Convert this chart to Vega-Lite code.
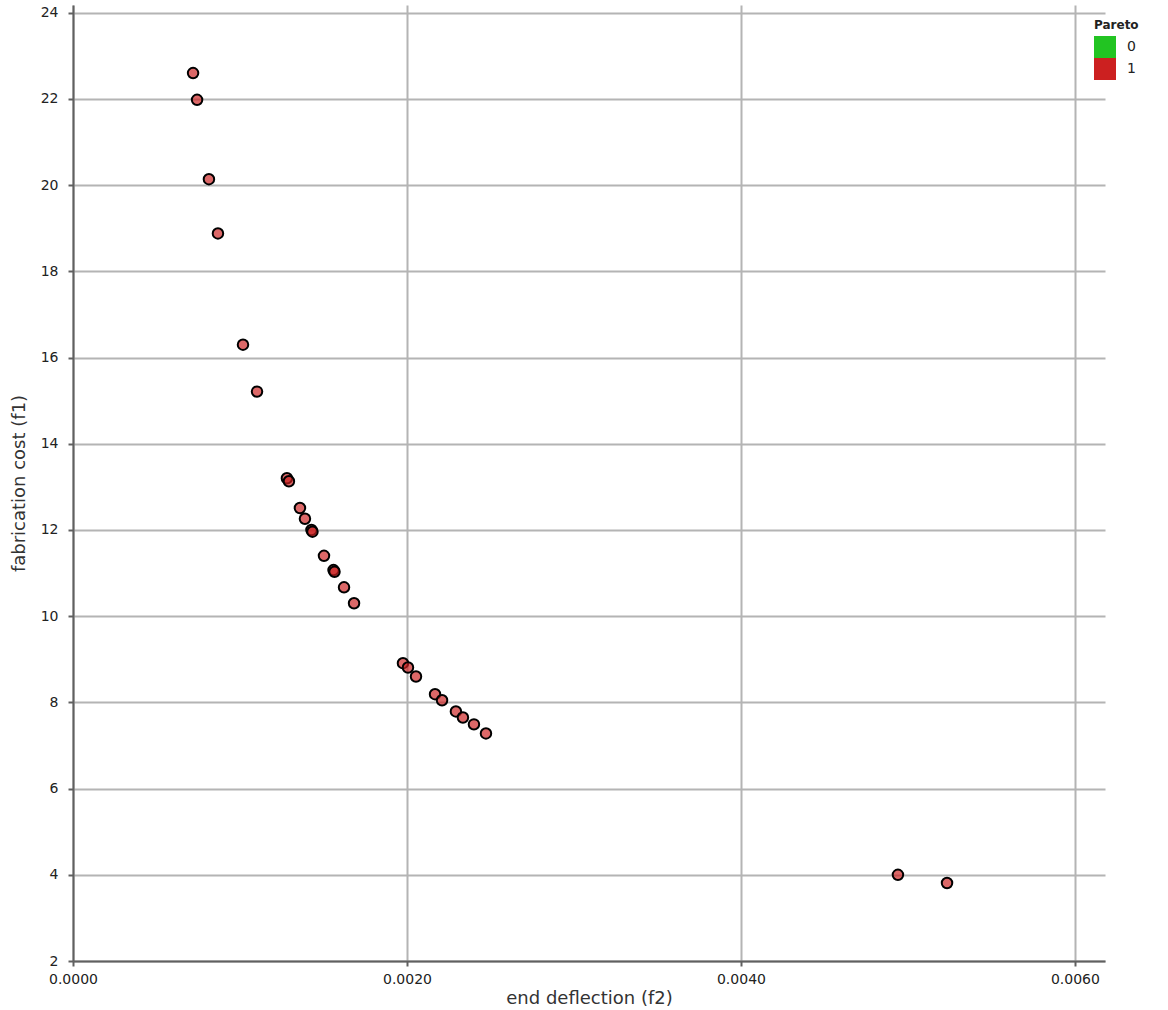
{
  "$schema": "https://vega.github.io/schema/vega-lite/v6.json",
  "width": 1032,
  "height": 956,
  "autosize": {"type": "none"},
  "padding": {"left": 73, "top": 5, "right": 63, "bottom": 49},
  "background": "white",
  "config": {
    "view": {"stroke": null},
    "font": "DejaVu Sans"
  },
  "data": {
    "values": [
      {"f2": 0.000719, "f1": 22.60, "Pareto": "1"},
      {"f2": 0.000743, "f1": 21.98, "Pareto": "1"},
      {"f2": 0.000814, "f1": 20.14, "Pareto": "1"},
      {"f2": 0.000868, "f1": 18.88, "Pareto": "1"},
      {"f2": 0.001018, "f1": 16.30, "Pareto": "1"},
      {"f2": 0.001102, "f1": 15.21, "Pareto": "1"},
      {"f2": 0.001281, "f1": 13.20, "Pareto": "1"},
      {"f2": 0.001293, "f1": 13.13, "Pareto": "1"},
      {"f2": 0.001359, "f1": 12.51, "Pareto": "1"},
      {"f2": 0.001389, "f1": 12.26, "Pareto": "1"},
      {"f2": 0.001428, "f1": 12.00, "Pareto": "1"},
      {"f2": 0.001434, "f1": 11.96, "Pareto": "1"},
      {"f2": 0.001503, "f1": 11.40, "Pareto": "1"},
      {"f2": 0.001560, "f1": 11.07, "Pareto": "1"},
      {"f2": 0.001566, "f1": 11.03, "Pareto": "1"},
      {"f2": 0.001623, "f1": 10.67, "Pareto": "1"},
      {"f2": 0.001683, "f1": 10.30, "Pareto": "1"},
      {"f2": 0.001976, "f1": 8.91, "Pareto": "1"},
      {"f2": 0.002006, "f1": 8.81, "Pareto": "1"},
      {"f2": 0.002054, "f1": 8.60, "Pareto": "1"},
      {"f2": 0.002168, "f1": 8.19, "Pareto": "1"},
      {"f2": 0.002210, "f1": 8.05, "Pareto": "1"},
      {"f2": 0.002293, "f1": 7.79, "Pareto": "1"},
      {"f2": 0.002335, "f1": 7.65, "Pareto": "1"},
      {"f2": 0.002401, "f1": 7.49, "Pareto": "1"},
      {"f2": 0.002473, "f1": 7.28, "Pareto": "1"},
      {"f2": 0.004940, "f1": 4.00, "Pareto": "1"},
      {"f2": 0.005234, "f1": 3.81, "Pareto": "1"}
    ]
  },
  "mark": {"type": "point", "filled": true, "shape": "circle", "size": 110, "stroke": "black", "strokeWidth": 2, "fillOpacity": 0.68, "strokeOpacity": 1},
  "encoding": {
    "x": {
      "field": "f2", "type": "quantitative",
      "scale": {"domain": [0, 0.00618], "nice": false, "zero": false},
      "axis": {
        "title": "end deflection (f2)",
        "values": [0, 0.002, 0.004, 0.006],
        "format": ".4f",
        "labelFlush": false,
        "grid": true, "gridColor": "#b4b4b4", "gridWidth": 2,
        "domainColor": "#606060", "domainWidth": 2,
        "tickColor": "#606060", "tickWidth": 2, "tickSize": 5,
        "labelFontSize": 14, "labelColor": "#222222", "labelPadding": 6,
        "titleFontSize": 18, "titleFontWeight": "normal", "titleColor": "#333333", "titlePadding": 3
      }
    },
    "y": {
      "field": "f1", "type": "quantitative",
      "scale": {"domain": [2, 24.18], "nice": false, "zero": false},
      "axis": {
        "title": "fabrication cost (f1)",
        "values": [2, 4, 6, 8, 10, 12, 14, 16, 18, 20, 22, 24],
        "labelFlush": false,
        "grid": true, "gridColor": "#b4b4b4", "gridWidth": 2,
        "domainColor": "#606060", "domainWidth": 2,
        "tickColor": "#606060", "tickWidth": 2, "tickSize": 5,
        "labelFontSize": 14, "labelColor": "#222222", "labelPadding": 10,
        "titleFontSize": 18, "titleFontWeight": "normal", "titleColor": "#333333", "titlePadding": 12
      }
    },
    "color": {
      "field": "Pareto", "type": "nominal",
      "scale": {"domain": ["0", "1"], "range": ["#22c422", "#cc2020"]},
      "legend": {
        "title": "Pareto",
        "orient": "none", "legendX": 1021, "legendY": 15, "padding": 0,
        "titleFontSize": 12, "titleFontWeight": "bold", "titleColor": "#222222", "titlePadding": 4,
        "symbolType": "square", "symbolSize": 484, "symbolOpacity": 1, "symbolStrokeWidth": 0,
        "rowPadding": 0, "labelFontSize": 14, "labelColor": "#222222", "labelOffset": 11
      }
    }
  }
}
